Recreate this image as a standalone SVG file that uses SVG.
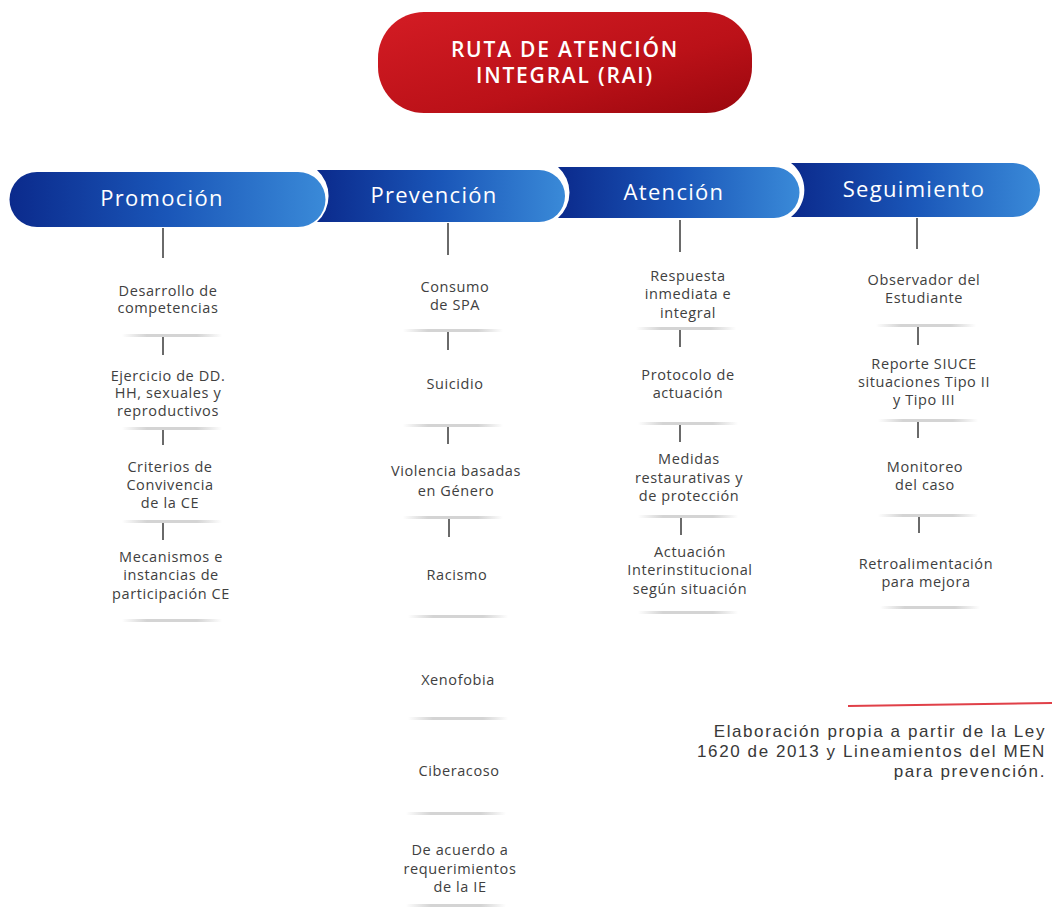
<svg xmlns="http://www.w3.org/2000/svg" width="1052" height="907" viewBox="0 0 1052 907">
<defs>
<linearGradient id="gRed" x1="0" y1="0" x2="1" y2="1">
<stop offset="0" stop-color="#d41c24"/>
<stop offset="0.6" stop-color="#bb1118"/>
<stop offset="1" stop-color="#9a070e"/>
</linearGradient>
<linearGradient id="gBlue" x1="0" y1="0" x2="1" y2="0">
<stop offset="0" stop-color="#0b2a8c"/>
<stop offset="0.5" stop-color="#1a56b8"/>
<stop offset="1" stop-color="#3a8ad8"/>
</linearGradient>
<linearGradient id="gSep" x1="0" y1="0" x2="1" y2="0">
<stop offset="0" stop-color="#d0d0d0" stop-opacity="0"/>
<stop offset="0.25" stop-color="#d4d4d4"/>
<stop offset="0.75" stop-color="#d4d4d4"/>
<stop offset="1" stop-color="#d0d0d0" stop-opacity="0"/>
</linearGradient>
<style>
.t{font-family:"Open Sans","Liberation Sans",sans-serif;font-size:14.5px;letter-spacing:0.6px;fill:#404040;text-anchor:middle}
.h{font-family:"Open Sans","Liberation Sans",sans-serif;font-size:22px;letter-spacing:1.3px;fill:#ffffff;text-anchor:middle;font-weight:500}
.ti{font-family:"Open Sans","Liberation Sans",sans-serif;font-size:21px;letter-spacing:1.8px;fill:#ffffff;text-anchor:middle;font-weight:600}
.f{font-family:"Liberation Sans","Open Sans",sans-serif;font-size:17px;letter-spacing:1.6px;fill:#383838;text-anchor:end}
.tick{stroke:#6a6a6a;stroke-width:2}
.sep{fill:url(#gSep)}
</style>
</defs>
<rect width="1052" height="907" fill="#ffffff"/>

<g id="title">
<rect x="378" y="12" width="374" height="101" rx="46" ry="46" fill="url(#gRed)"/>
<text class="ti" x="565" y="57">RUTA DE ATENCIÓN</text>
<text class="ti" x="565" y="83">INTEGRAL (RAI)</text>
</g>

<g id="promocion">
<path d="M37 172 H298 A27.5 27.5 0 0 1 298 227 H37 A27.5 27.5 0 0 1 37 172 Z" fill="url(#gBlue)"/>
<text class="h" x="162" y="206">Promoción</text>
</g>
<g id="prevencion">
<path d="M317 170 H539 A26 26 0 0 1 539 222 H317 A35 35 0 0 0 317 170 Z" fill="url(#gBlue)"/>
<text class="h" x="434" y="203">Prevención</text>
</g>
<g id="atencion">
<path d="M558 167 H774 A25.5 25.5 0 0 1 774 218 H558 A34 34 0 0 0 558 167 Z" fill="url(#gBlue)"/>
<text class="h" x="674" y="200">Atención</text>
</g>
<g id="seguimiento">
<path d="M791 163 H1013 A27 27 0 0 1 1013 217 H791 A34 34 0 0 0 791 163 Z" fill="url(#gBlue)"/>
<text class="h" x="914" y="197">Seguimiento</text>
</g>

<g id="connectors">
<line class="tick" x1="163" y1="228" x2="163" y2="258"/>
<line class="tick" x1="448" y1="223" x2="448" y2="255"/>
<line class="tick" x1="680" y1="220" x2="680" y2="252"/>
<line class="tick" x1="917" y1="218" x2="917" y2="249"/>

<line class="tick" x1="163" y1="336" x2="163" y2="355"/>
<line class="tick" x1="163" y1="429" x2="163" y2="445"/>
<line class="tick" x1="163" y1="522" x2="163" y2="540"/>

<line class="tick" x1="448" y1="331" x2="448" y2="350"/>
<line class="tick" x1="448" y1="426" x2="448" y2="444"/>
<line class="tick" x1="449" y1="518" x2="449" y2="537"/>

<line class="tick" x1="680" y1="329" x2="680" y2="347"/>
<line class="tick" x1="680" y1="424" x2="680" y2="442"/>
<line class="tick" x1="681" y1="517" x2="681" y2="535"/>

<line class="tick" x1="918" y1="326" x2="918" y2="345"/>
<line class="tick" x1="918" y1="421" x2="918" y2="438"/>
<line class="tick" x1="919" y1="516" x2="919" y2="533"/>

<rect class="sep" x="122" y="334" width="100" height="3"/>
<rect class="sep" x="122" y="427" width="100" height="3"/>
<rect class="sep" x="122" y="520" width="100" height="3"/>
<rect class="sep" x="122" y="619" width="100" height="3"/>

<rect class="sep" x="403" y="329" width="100" height="3"/>
<rect class="sep" x="403" y="424" width="100" height="3"/>
<rect class="sep" x="403" y="516" width="100" height="3"/>
<rect class="sep" x="408" y="615" width="100" height="3"/>
<rect class="sep" x="408" y="717" width="100" height="3"/>
<rect class="sep" x="406" y="812" width="100" height="3"/>
<rect class="sep" x="406" y="904" width="100" height="3"/>

<rect class="sep" x="636" y="327" width="100" height="3"/>
<rect class="sep" x="638" y="422" width="100" height="3"/>
<rect class="sep" x="638" y="515" width="100" height="3"/>
<rect class="sep" x="638" y="611" width="100" height="3"/>

<rect class="sep" x="876" y="324" width="100" height="3"/>
<rect class="sep" x="878" y="419" width="100" height="3"/>
<rect class="sep" x="878" y="514" width="100" height="3"/>
<rect class="sep" x="880" y="606" width="100" height="3"/>
</g>

<g id="col-promocion">
<text class="t" x="168" y="296">Desarrollo de</text>
<text class="t" x="168" y="313">competencias</text>
<text class="t" x="168" y="381">Ejercicio de DD.</text>
<text class="t" x="168" y="398">HH, sexuales y</text>
<text class="t" x="168" y="416">reproductivos</text>
<text class="t" x="170" y="472">Criterios de</text>
<text class="t" x="170" y="490">Convivencia</text>
<text class="t" x="170" y="508">de la CE</text>
<text class="t" x="171" y="562">Mecanismos e</text>
<text class="t" x="171" y="580">instancias de</text>
<text class="t" x="171" y="599">participación CE</text>
</g>

<g id="col-prevencion">
<text class="t" x="455" y="292">Consumo</text>
<text class="t" x="455" y="310">de SPA</text>
<text class="t" x="455" y="389">Suicidio</text>
<text class="t" x="456" y="476">Violencia basadas</text>
<text class="t" x="456" y="496">en Género</text>
<text class="t" x="457" y="580">Racismo</text>
<text class="t" x="458" y="685">Xenofobia</text>
<text class="t" x="459" y="776">Ciberacoso</text>
<text class="t" x="460" y="855">De acuerdo a</text>
<text class="t" x="460" y="874">requerimientos</text>
<text class="t" x="460" y="892">de la IE</text>
</g>

<g id="col-atencion">
<text class="t" x="688" y="281">Respuesta</text>
<text class="t" x="688" y="299">inmediata e</text>
<text class="t" x="688" y="318">integral</text>
<text class="t" x="688" y="380">Protocolo de</text>
<text class="t" x="688" y="398">actuación</text>
<text class="t" x="689" y="464">Medidas</text>
<text class="t" x="689" y="483">restaurativas y</text>
<text class="t" x="689" y="501">de protección</text>
<text class="t" x="690" y="557">Actuación</text>
<text class="t" x="690" y="575">Interinstitucional</text>
<text class="t" x="690" y="594">según situación</text>
</g>

<g id="col-seguimiento">
<text class="t" x="924" y="285">Observador del</text>
<text class="t" x="924" y="303">Estudiante</text>
<text class="t" x="924" y="369">Reporte SIUCE</text>
<text class="t" x="924" y="387">situaciones Tipo II</text>
<text class="t" x="924" y="405">y Tipo III</text>
<text class="t" x="925" y="472">Monitoreo</text>
<text class="t" x="925" y="490">del caso</text>
<text class="t" x="926" y="569">Retroalimentación</text>
<text class="t" x="926" y="587">para mejora</text>
</g>

<g id="footer">
<line x1="848" y1="706" x2="1052" y2="703" stroke="#e04048" stroke-width="2"/>
<text class="f" x="1046" y="737">Elaboración propia a partir de la Ley</text>
<text class="f" x="1046" y="757">1620 de 2013 y Lineamientos del MEN</text>
<text class="f" x="1046" y="777">para prevención.</text>
</g>
</svg>
